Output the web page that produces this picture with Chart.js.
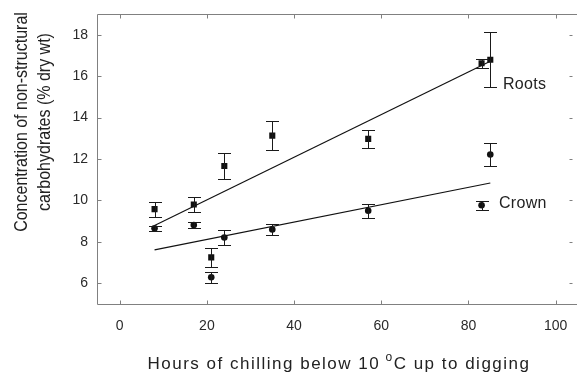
<!DOCTYPE html>
<html>
<head>
<meta charset="utf-8">
<script src="https://cdn.jsdelivr.net/npm/chart.js@4/dist/chart.umd.min.js"></script>
<style>
  body { margin: 0; background: #fff; }
</style>
</head>
<body>
<canvas id="chart" width="577" height="373"></canvas>
<script>
// data
const rootHours = [8, 17, 21, 24, 35, 57, 83, 85];
const rootValues = [9.58, 9.80, 7.25, 11.66, 13.13, 12.97, 16.62, 16.79];
const rootErrors = [0.36, 0.35, 0.44, 0.63, 0.69, 0.42, 0.21, 1.33];

const crownHours = [8, 17, 21, 24, 35, 57, 83, 85];
const crownValues = [8.66, 8.81, 6.29, 8.21, 8.60, 9.50, 9.77, 12.22];
const crownErrors = [0.12, 0.16, 0.26, 0.37, 0.26, 0.35, 0.22, 0.55];

// fitted lines (end points)
const rootFitHours = [8, 85];
const rootFitValues = [8.79, 16.72];
const crownFitHours = [8, 85];
const crownFitValues = [7.61, 10.84];

const xTicks = [0, 20, 40, 60, 80, 100];
const yTicks = [6, 8, 10, 12, 14, 16, 18];

// series labels placed in data coordinates
const seriesLabels = ["Roots", "Crown"];
const labelHours = [87.9, 87.0];
const labelValues = [15.6, 9.83];

const FONT = "'Liberation Sans', Arial, sans-serif";

const toPoints = (xs, ys) => xs.map((x, i) => ({ x: x, y: ys[i] }));

const noPad = s => { s.paddingLeft = 0; s.paddingRight = 0; s.paddingTop = 0; s.paddingBottom = 0; };

const errorBars = {
  id: "errorBars",
  afterDatasetsDraw(chart) {
    const ctx = chart.ctx;
    const ys = chart.scales.y;
    ctx.save();
    ctx.strokeStyle = "#1a1a1a";
    ctx.lineWidth = 1;
    chart.data.datasets.forEach((ds, i) => {
      if (!ds.errors) return;
      const meta = chart.getDatasetMeta(i);
      meta.data.forEach((el, j) => {
        const v = ds.data[j].y, e = ds.errors[j];
        const x = Math.round(el.x) + 0.5;
        const top = Math.round(ys.getPixelForValue(v + e)) + 0.5;
        const bot = Math.round(ys.getPixelForValue(v - e)) + 0.5;
        ctx.beginPath();
        ctx.moveTo(x, top); ctx.lineTo(x, bot);
        ctx.moveTo(x - 6.5, top); ctx.lineTo(x + 6.5, top);
        ctx.moveTo(x - 6.5, bot); ctx.lineTo(x + 6.5, bot);
        ctx.stroke();
      });
    });
    ctx.restore();
  }
};

const frame = {
  id: "frame",
  afterDraw(chart) {
    const ctx = chart.ctx;
    const a = chart.chartArea;
    const xs = chart.scales.x, ys = chart.scales.y;
    const L = Math.round(a.left) + 0.5;
    const R = Math.min(Math.round(a.right), chart.width) - 0.5;
    const T = Math.round(a.top) + 0.5, B = Math.round(a.bottom) + 0.5;
    ctx.save();
    ctx.strokeStyle = "#808080";
    ctx.lineWidth = 1;
    // the source image is cropped just before the right border
    ctx.beginPath();
    ctx.moveTo(chart.width, T); ctx.lineTo(L, T); ctx.lineTo(L, B); ctx.lineTo(chart.width, B);
    xs.ticks.forEach(t => {
      const p = Math.round(xs.getPixelForValue(t.value)) + 0.5;
      ctx.moveTo(p, B); ctx.lineTo(p, B - 4);
      ctx.moveTo(p, T); ctx.lineTo(p, T + 4);
    });
    ys.ticks.forEach(t => {
      const p = Math.round(ys.getPixelForValue(t.value)) + 0.5;
      ctx.moveTo(L, p); ctx.lineTo(L + 4, p);
      ctx.moveTo(R, p); ctx.lineTo(R - 3, p);
    });
    ctx.stroke();

    // series labels
    ctx.fillStyle = "#222";
    ctx.font = "16px " + FONT;
    ctx.textAlign = "left";
    ctx.textBaseline = "middle";
    ctx.letterSpacing = "0.3px";
    seriesLabels.forEach((s, i) => {
      ctx.fillText(s, xs.getPixelForValue(labelHours[i]), ys.getPixelForValue(labelValues[i]));
    });

    // y axis title (two lines), glyphs a little wider like the source
    ctx.save();
    ctx.textAlign = "center";
    ctx.font = "16px " + FONT;
    ctx.letterSpacing = "0px";
    ctx.translate(22, 122);
    ctx.rotate(-Math.PI / 2);
    ctx.scale(1, 1.2);
    ctx.fillText("Concentration of non-structural", 0, 0);
    ctx.fillText("carbohydrates (% dry wt)", 0, 19);
    ctx.restore();

    // x axis title with superscript o
    const part1 = "Hours of chilling below 10 ", sup = "o", part2 = "C up to digging";
    ctx.textBaseline = "alphabetic";
    ctx.letterSpacing = "1.5px";
    ctx.font = "17px " + FONT;
    const w1 = ctx.measureText(part1).width, w3 = ctx.measureText(part2).width;
    ctx.font = "12px " + FONT;
    const w2 = ctx.measureText(sup).width;
    const x0 = 339.5 - (w1 + w2 + w3) / 2;
    const y0 = 369;
    ctx.textAlign = "left";
    ctx.font = "17px " + FONT;
    ctx.fillText(part1, x0, y0);
    ctx.font = "12px " + FONT;
    ctx.fillText(sup, x0 + w1 - 1, y0 - 8);
    ctx.font = "17px " + FONT;
    ctx.fillText(part2, x0 + w1 + w2 - 1, y0);
    ctx.restore();
  }
};

new Chart(document.getElementById("chart"), {
  type: "scatter",
  data: {
    datasets: [
      {
        label: "Roots",
        data: toPoints(rootHours, rootValues),
        errors: rootErrors,
        pointStyle: "rect",
        pointRadius: 4.3,
        backgroundColor: "#111",
        borderColor: "#111",
        borderWidth: 0
      },
      {
        label: "Crown",
        data: toPoints(crownHours, crownValues),
        errors: crownErrors,
        pointStyle: "circle",
        pointRadius: 3.3,
        backgroundColor: "#111",
        borderColor: "#111",
        borderWidth: 0
      },
      {
        label: "Roots fit",
        data: toPoints(rootFitHours, rootFitValues),
        showLine: true,
        pointRadius: 0,
        borderColor: "#111",
        borderWidth: 1.2
      },
      {
        label: "Crown fit",
        data: toPoints(crownFitHours, crownFitValues),
        showLine: true,
        pointRadius: 0,
        borderColor: "#111",
        borderWidth: 1.2
      }
    ]
  },
  options: {
    responsive: false,
    animation: false,
    layout: { padding: { top: 14, right: 0, left: 0, bottom: 0 } },
    plugins: {
      legend: { display: false },
      tooltip: { enabled: false }
    },
    scales: {
      x: {
        type: "linear",
        min: -5.2,
        max: 103.9,
        afterBuildTicks: s => { s.ticks = xTicks.map(v => ({ value: v })); },
        afterFit: s => { s.height = 69; noPad(s); },
        grid: { display: false, drawTicks: false },
        border: { display: false },
        ticks: {
          padding: 14,
          color: "#2a2a2a",
          font: { family: FONT, size: 14 }
        }
      },
      y: {
        type: "linear",
        min: 5,
        max: 19,
        afterBuildTicks: s => { s.ticks = yTicks.map(v => ({ value: v })); },
        afterFit: s => { s.width = 97; noPad(s); },
        grid: { display: false, drawTicks: false },
        border: { display: false },
        ticks: {
          padding: 9,
          color: "#2a2a2a",
          font: { family: FONT, size: 14 }
        }
      }
    }
  },
  plugins: [errorBars, frame]
});
</script>
</body>
</html>
